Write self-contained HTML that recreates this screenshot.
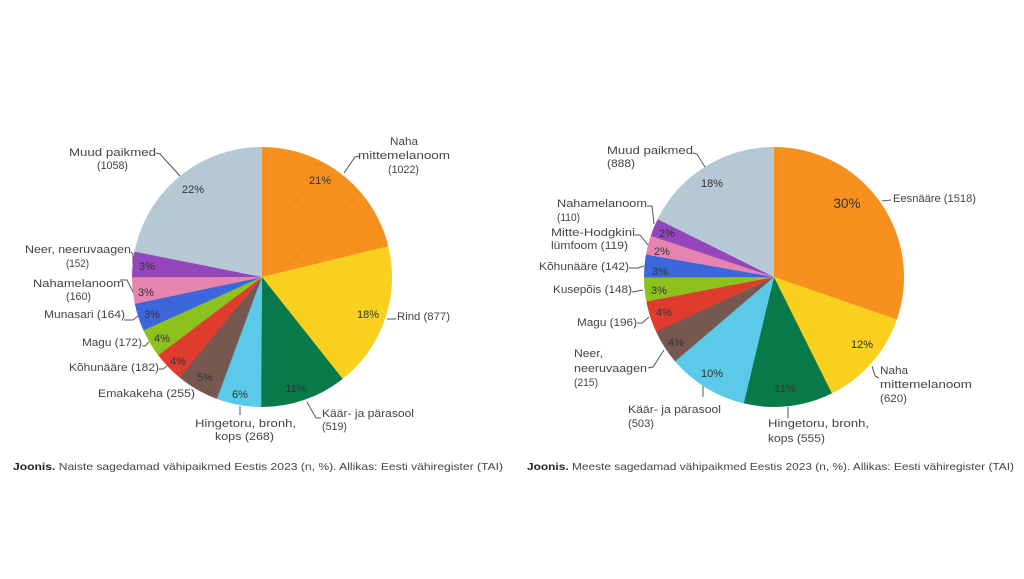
<!DOCTYPE html>
<html><head><meta charset="utf-8"><style>
html,body{margin:0;padding:0;background:#fff;}
svg{display:block;}
text{font-family:"Liberation Sans",sans-serif;fill:#444;}
.l{font-size:11px;}
.p{font-size:11px;text-anchor:middle;fill:#333;}
.c{font-size:10.5px;fill:#444;}
</style></head><body>
<svg width="1024" height="579" viewBox="0 0 1024 579" xmlns="http://www.w3.org/2000/svg">
<defs>
<pattern id="dots" patternUnits="userSpaceOnUse" width="14" height="14">
<rect width="14" height="14" fill="#F7901E"/>
<circle cx="3" cy="3" r="0.55" fill="#c9761a"/>
<circle cx="10" cy="10" r="0.55" fill="#c9761a"/>
</pattern>
</defs>
<rect width="1024" height="579" fill="#fff"/>

<!-- LEFT PIE -->
<g transform="rotate(-90 262 277)" fill="none" stroke-width="130">
<circle cx="262" cy="277" r="65" stroke="url(#dots)" stroke-dasharray="86.735 408.407" stroke-dashoffset="0"/>
<circle cx="262" cy="277" r="65" stroke="#F9D01D" stroke-dasharray="74.471 408.407" stroke-dashoffset="-86.435"/>
<circle cx="262" cy="277" r="65" stroke="#087A4A" stroke-dasharray="44.194 408.407" stroke-dashoffset="-160.606"/>
<circle cx="262" cy="277" r="65" stroke="#5BC9E8" stroke-dasharray="22.966 408.407" stroke-dashoffset="-204.500"/>
<circle cx="262" cy="277" r="65" stroke="#765850" stroke-dasharray="21.866 408.407" stroke-dashoffset="-227.166"/>
<circle cx="262" cy="277" r="65" stroke="#E03C2E" stroke-dasharray="15.692 408.407" stroke-dashoffset="-248.732"/>
<circle cx="262" cy="277" r="65" stroke="#8DC11E" stroke-dasharray="14.847 408.407" stroke-dashoffset="-264.124"/>
<circle cx="262" cy="277" r="65" stroke="#3C66DC" stroke-dasharray="14.170 408.407" stroke-dashoffset="-278.671"/>
<circle cx="262" cy="277" r="65" stroke="#E584AE" stroke-dasharray="13.832 408.407" stroke-dashoffset="-292.541"/>
<circle cx="262" cy="277" r="65" stroke="#9446BC" stroke-dasharray="13.155 408.407" stroke-dashoffset="-306.073"/>
<circle cx="262" cy="277" r="65" stroke="#B4C9D4" stroke-dasharray="89.479 408.407" stroke-dashoffset="-318.928"/>
</g>

<!-- left percentages -->
<text class="p" x="193" y="193">22%</text>
<text class="p" x="147" y="270">3%</text>
<text class="p" x="146" y="296">3%</text>
<text class="p" x="152" y="318">3%</text>
<text class="p" x="162" y="342">4%</text>
<text class="p" x="178" y="365">4%</text>
<text class="p" x="205" y="381">5%</text>
<text class="p" x="240" y="398">6%</text>
<text class="p" x="320" y="184">21%</text>
<text class="p" x="368" y="318">18%</text>
<text class="p" x="296" y="392">11%</text>

<!-- left leaders -->
<g fill="none" stroke="#555" stroke-width="1">
<polyline points="156,153 160,154 180,176"/>
<polyline points="131,252 133,254 133,264"/>
<polyline points="120,280 127,280 133,292"/>
<polyline points="124,320 133,320 138,316"/>
<polyline points="142,346 145,346 149,342"/>
<polyline points="159,369 163,369 167,366"/>
<polyline points="240,406 240,415"/>
<polyline points="360,156 355,157 344,173"/>
<polyline points="387,319 396,319"/>
<polyline points="307,402 316,418 321,418"/>
</g>

<!-- left labels -->
<text class="l" x="69" y="156" textLength="87" lengthAdjust="spacingAndGlyphs">Muud paikmed</text>
<text class="l" x="97" y="169" textLength="31" lengthAdjust="spacingAndGlyphs">(1058)</text>
<text class="l" x="25" y="253" textLength="106" lengthAdjust="spacingAndGlyphs">Neer, neeruvaagen</text>
<text class="l" x="66" y="267" textLength="23" lengthAdjust="spacingAndGlyphs">(152)</text>
<text class="l" x="33" y="287" textLength="91" lengthAdjust="spacingAndGlyphs">Nahamelanoom</text>
<text class="l" x="66" y="300" textLength="25" lengthAdjust="spacingAndGlyphs">(160)</text>
<text class="l" x="44" y="318" textLength="81" lengthAdjust="spacingAndGlyphs">Munasari (164)</text>
<text class="l" x="82" y="346" textLength="60" lengthAdjust="spacingAndGlyphs">Magu (172)</text>
<text class="l" x="69" y="371" textLength="90" lengthAdjust="spacingAndGlyphs">Kõhunääre (182)</text>
<text class="l" x="98" y="397" textLength="97" lengthAdjust="spacingAndGlyphs">Emakakeha (255)</text>
<text class="l" x="195" y="427" textLength="101" lengthAdjust="spacingAndGlyphs">Hingetoru, bronh,</text>
<text class="l" x="215" y="440" textLength="59" lengthAdjust="spacingAndGlyphs">kops (268)</text>
<text class="l" x="390" y="145" textLength="28" lengthAdjust="spacingAndGlyphs">Naha</text>
<text class="l" x="358" y="159" textLength="92" lengthAdjust="spacingAndGlyphs">mittemelanoom</text>
<text class="l" x="388" y="173" textLength="31" lengthAdjust="spacingAndGlyphs">(1022)</text>
<text class="l" x="397" y="320" textLength="53" lengthAdjust="spacingAndGlyphs">Rind (877)</text>
<text class="l" x="322" y="417" textLength="92" lengthAdjust="spacingAndGlyphs">Käär- ja pärasool</text>
<text class="l" x="322" y="430" textLength="25" lengthAdjust="spacingAndGlyphs">(519)</text>

<!-- RIGHT PIE -->
<g transform="rotate(-90 774 277)" fill="none" stroke-width="130">
<circle cx="774" cy="277" r="65" stroke="#F7901E" stroke-dasharray="123.947 408.407" stroke-dashoffset="0"/>
<circle cx="774" cy="277" r="65" stroke="#F9D01D" stroke-dasharray="50.801 408.407" stroke-dashoffset="-123.647"/>
<circle cx="774" cy="277" r="65" stroke="#087A4A" stroke-dasharray="45.507 408.407" stroke-dashoffset="-174.148"/>
<circle cx="774" cy="277" r="65" stroke="#5BC9E8" stroke-dasharray="41.271 408.407" stroke-dashoffset="-219.355"/>
<circle cx="774" cy="277" r="65" stroke="#765850" stroke-dasharray="17.813 408.407" stroke-dashoffset="-260.326"/>
<circle cx="774" cy="277" r="65" stroke="#E03C2E" stroke-dasharray="16.265 408.407" stroke-dashoffset="-277.839"/>
<circle cx="774" cy="277" r="65" stroke="#8DC11E" stroke-dasharray="12.355 408.407" stroke-dashoffset="-293.804"/>
<circle cx="774" cy="277" r="65" stroke="#3C66DC" stroke-dasharray="11.866 408.407" stroke-dashoffset="-305.859"/>
<circle cx="774" cy="277" r="65" stroke="#E584AE" stroke-dasharray="9.993 408.407" stroke-dashoffset="-317.425"/>
<circle cx="774" cy="277" r="65" stroke="#9446BC" stroke-dasharray="9.260 408.407" stroke-dashoffset="-327.118"/>
<circle cx="774" cy="277" r="65" stroke="#B4C9D4" stroke-dasharray="72.331 408.407" stroke-dashoffset="-336.078"/>
</g>

<!-- right percentages -->
<text class="p" x="712" y="187">18%</text>
<text class="p" x="667" y="237">2%</text>
<text class="p" x="662" y="255">2%</text>
<text class="p" x="660" y="275">3%</text>
<text class="p" x="659" y="294">3%</text>
<text class="p" x="664" y="316">4%</text>
<text class="p" x="676" y="346">4%</text>
<text class="p" x="712" y="377">10%</text>
<text class="p" x="785" y="392">11%</text>
<text class="p" x="862" y="348">12%</text>
<text class="p" x="847" y="208" style="font-size:13.5px">30%</text>

<!-- right leaders -->
<g fill="none" stroke="#555" stroke-width="1">
<polyline points="693,153 697,154 705,167"/>
<polyline points="647,206 652,206 654,224"/>
<polyline points="635,235 640,235 648,245"/>
<polyline points="629,268 638,268 644,266"/>
<polyline points="632,292 643,290"/>
<polyline points="637,323 642,323 649,317"/>
<polyline points="648,368 653,367 664,350"/>
<polyline points="703,386 703,397"/>
<polyline points="788,407 788,418"/>
<polyline points="872,366 875,376 879,378"/>
<polyline points="882,201 891,200"/>
</g>

<!-- right labels -->
<text class="l" x="607" y="154" textLength="86" lengthAdjust="spacingAndGlyphs">Muud paikmed</text>
<text class="l" x="607" y="167" textLength="28" lengthAdjust="spacingAndGlyphs">(888)</text>
<text class="l" x="557" y="207" textLength="90" lengthAdjust="spacingAndGlyphs">Nahamelanoom</text>
<text class="l" x="557" y="221" textLength="23" lengthAdjust="spacingAndGlyphs">(110)</text>
<text class="l" x="551" y="236" textLength="84" lengthAdjust="spacingAndGlyphs">Mitte-Hodgkini</text>
<text class="l" x="551" y="249" textLength="77" lengthAdjust="spacingAndGlyphs">lümfoom (119)</text>
<text class="l" x="539" y="270" textLength="90" lengthAdjust="spacingAndGlyphs">Kõhunääre (142)</text>
<text class="l" x="553" y="293" textLength="79" lengthAdjust="spacingAndGlyphs">Kusepõis (148)</text>
<text class="l" x="577" y="326" textLength="60" lengthAdjust="spacingAndGlyphs">Magu (196)</text>
<text class="l" x="574" y="357" textLength="29" lengthAdjust="spacingAndGlyphs">Neer,</text>
<text class="l" x="574" y="372" textLength="73" lengthAdjust="spacingAndGlyphs">neeruvaagen</text>
<text class="l" x="574" y="386" textLength="24" lengthAdjust="spacingAndGlyphs">(215)</text>
<text class="l" x="628" y="413" textLength="93" lengthAdjust="spacingAndGlyphs">Käär- ja pärasool</text>
<text class="l" x="628" y="427" textLength="26" lengthAdjust="spacingAndGlyphs">(503)</text>
<text class="l" x="768" y="427" textLength="101" lengthAdjust="spacingAndGlyphs">Hingetoru, bronh,</text>
<text class="l" x="768" y="442" textLength="57" lengthAdjust="spacingAndGlyphs">kops (555)</text>
<text class="l" x="880" y="374" textLength="28" lengthAdjust="spacingAndGlyphs">Naha</text>
<text class="l" x="880" y="388" textLength="92" lengthAdjust="spacingAndGlyphs">mittemelanoom</text>
<text class="l" x="880" y="402" textLength="27" lengthAdjust="spacingAndGlyphs">(620)</text>
<text class="l" x="893" y="202" textLength="83" lengthAdjust="spacingAndGlyphs">Eesnääre (1518)</text>

<!-- captions -->
<text class="c" x="13" y="470" textLength="490" lengthAdjust="spacingAndGlyphs"><tspan font-weight="bold" fill="#222">Joonis.</tspan> Naiste sagedamad vähipaikmed Eestis 2023 (n, %). Allikas: Eesti vähiregister (TAI)</text>
<text class="c" x="527" y="470" textLength="487" lengthAdjust="spacingAndGlyphs"><tspan font-weight="bold" fill="#222">Joonis.</tspan> Meeste sagedamad vähipaikmed Eestis 2023 (n, %). Allikas: Eesti vähiregister (TAI)</text>
</svg>
</body></html>
